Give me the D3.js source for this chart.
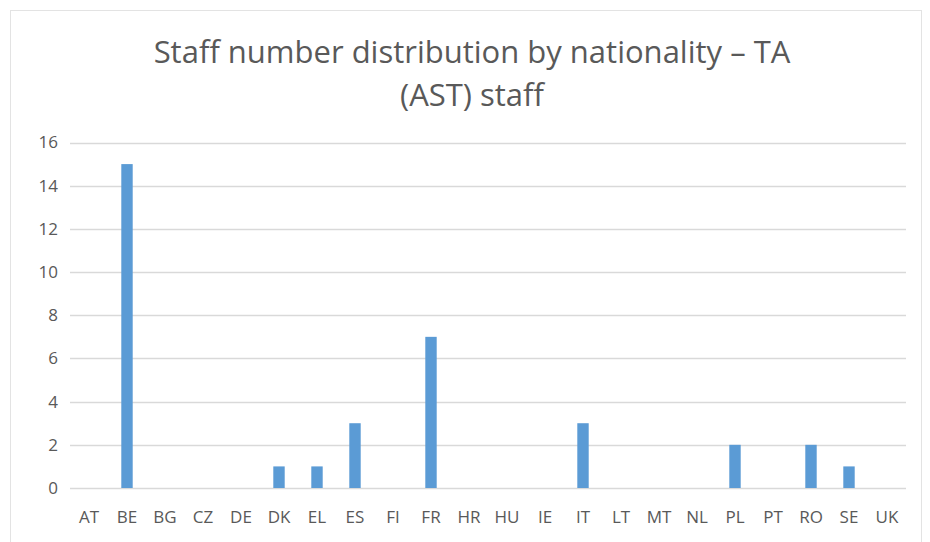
<!DOCTYPE html>
<meta charset="utf-8" />
<html>
<head>
<title>Staff number distribution</title>
<script src="https://cdn.jsdelivr.net/npm/d3@7"></script>
<style>
body { margin: 0; background: #fff; }
text { font-family: "Open Sans", sans-serif; fill: #595959; }
</style>
</head>
<body>
<div id="viz"></div>
<script>

var countries = ["AT","BE","BG","CZ","DE","DK","EL","ES","FI","FR","HR","HU","IE","IT","LT","MT","NL","PL","PT","RO","SE","UK"];
var staff = [0,15,0,0,0,1,1,3,0,7,0,0,0,3,0,0,0,2,0,2,1,0];
var yTicks = [0,2,4,6,8,10,12,14,16];
var titleLines = ["Staff number distribution by nationality \u2013 TA", "(AST) staff"];

var width = 930,
    height = 542;

var svg = d3.select("#viz").append("svg")
    .attr("width", width)
    .attr("height", height);

// chart frame
svg.append("rect")
  .attr("x", 10.5).attr("y", 10.5)
  .attr("width", 911).attr("height", 540)
  .style("fill", "#fff")
  .style("stroke", "#e3e3e3");

var plotLeft = 70, plotRight = 906, plotTop = 142.5, plotBottom = 488;

var x = d3.scaleBand().domain(countries).range([plotLeft, plotRight]).paddingInner(0.7).paddingOuter(0.35);
var y = d3.scaleLinear().domain([0, 16]).range([plotBottom, plotTop]);

// gridlines
svg.append("g").selectAll("line")
  .data(yTicks)
  .enter().append("line")
  .attr("x1", plotLeft).attr("x2", plotRight)
  .attr("y1", function(d) { return Math.round(y(d)) + 0.5; })
  .attr("y2", function(d) { return Math.round(y(d)) + 0.5; })
  .style("stroke", "#d9d9d9")
  .style("stroke-width", 1.5);

// y labels
svg.append("g").selectAll("text")
  .data(yTicks)
  .enter().append("text")
  .attr("x", 58)
  .attr("y", function(d) { return y(d); })
  .attr("dy", "0.35em")
  .attr("text-anchor", "end")
  .style("font-size", "17px")
  .text(function(d) { return d; });

// bars
svg.append("g").selectAll("rect")
  .data(staff)
  .enter().append("rect")
  .attr("x", function(d, i) { return x(countries[i]); })
  .attr("width", x.bandwidth())
  .attr("y", function(d) { return y(d); })
  .attr("height", function(d) { return y(0) - y(d); })
  .style("fill", "#5b9bd5");

// x labels
svg.append("g").selectAll("text")
  .data(countries)
  .enter().append("text")
  .attr("x", function(d) { return x(d) + x.bandwidth() / 2; })
  .attr("y", 523)
  .attr("text-anchor", "middle")
  .style("font-size", "17px")
  .text(function(d) { return d; });

// title
svg.append("g").selectAll("text")
  .data(titleLines)
  .enter().append("text")
  .attr("x", 472)
  .attr("y", function(d, i) { return 63 + i * 43; })
  .attr("text-anchor", "middle")
  .style("font-size", "31px")
  .text(function(d) { return d; });

</script>
</body>
</html>
